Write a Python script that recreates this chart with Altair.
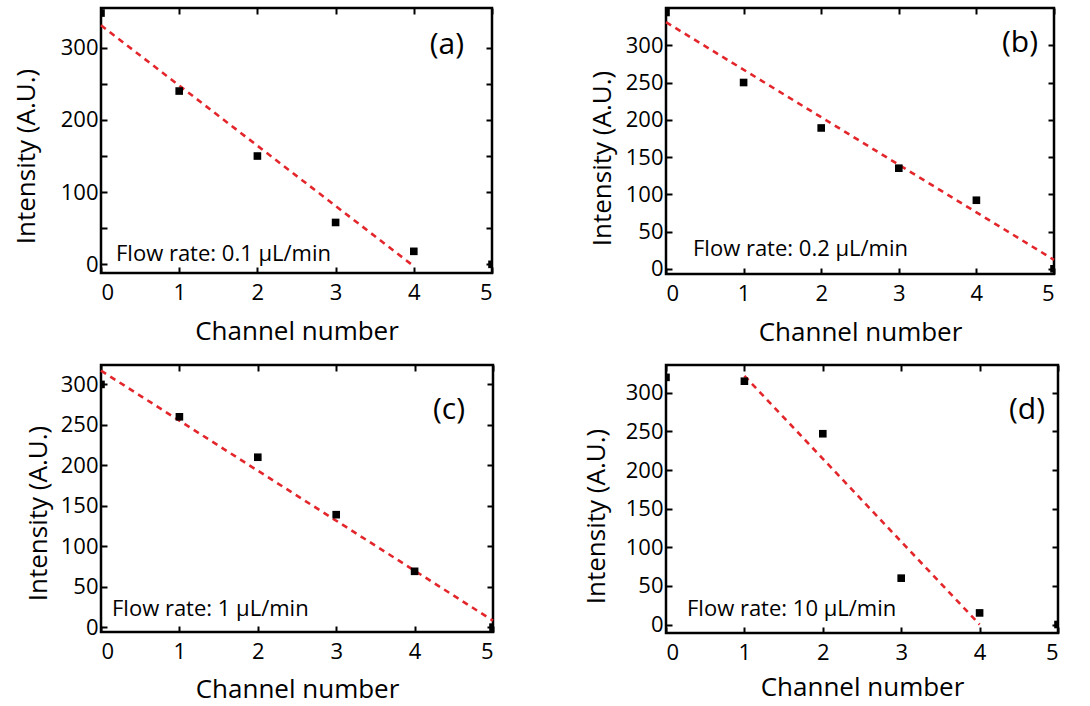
import altair as alt
import pandas as pd

channels = [0, 1, 2, 3, 4, 5]
int_a = [348, 240, 150, 58, 18, 0]
int_b = [344, 250, 189, 135, 92, 0]
int_c = [300, 260, 210, 139, 69, 0]
int_d = [320, 315, 247, 60, 15, 0]

fit_a_x, fit_a_y = [0, 3.97], [331, 0]
fit_b_x, fit_b_y = [0, 5], [331, 12]
fit_c_x, fit_c_y = [0, 5], [317, 8]
fit_d_x, fit_d_y = [1, 4], [322, 0]

notes = ["Flow rate: 0.1 µL/min", "Flow rate: 0.2 µL/min",
         "Flow rate: 1 µL/min", "Flow rate: 10 µL/min"]
labels = ["(a)", "(b)", "(c)", "(d)"]
x_ticks = [0, 1, 2, 3, 4, 5]
y_ticks = [0, 50, 100, 150, 200, 250, 300]

FONT = "Open Sans"


def panel(vals, fx, fy, dom, yexpr, w, h, note, lab, note_xy, lab_xy, ytx, yty, xty):
    pts = pd.DataFrame({"ch": channels, "v": vals})
    fit = pd.DataFrame({"ch": fx, "v": fy})
    xs = alt.Scale(domain=[0, 5], nice=False, zero=False)
    ys = alt.Scale(domain=dom, nice=False, zero=False)
    common = dict(domain=False, tickColor="black", tickWidth=2, tickSize=6,
                  offset=-6, grid=False, labelFont=FONT, titleFont=FONT,
                  labelColor="black", titleColor="black")
    points = alt.Chart(pts).mark_square(size=58, color="black", opacity=1, clip=True).encode(
        x=alt.X("ch:Q", scale=xs, axis=alt.Axis(
            orient="bottom", values=x_ticks, title="Channel number",
            labelFontSize=22, labelPadding=9, titleFontSize=26,
            titleFontWeight="normal", titleBaseline="alphabetic", titleY=xty, **common)),
        y=alt.Y("v:Q", scale=ys, axis=alt.Axis(
            orient="left", values=y_ticks, labelExpr=yexpr, title="Intensity (A.U.)",
            labelFontSize=22, labelPadding=3, titleFontSize=26, titleFontWeight="normal",
            titleBaseline="middle", titleAlign="center", titleAngle=-90,
            titleX=ytx, titleY=yty, **common)),
    )
    line = alt.Chart(fit).mark_line(color="#e3262b", strokeDash=[6, 5], strokeWidth=2.6).encode(
        x=alt.X("ch:Q", scale=xs, axis=alt.Axis(orient="top", values=x_ticks, labels=False,
                                                 title=None, **common)),
        y=alt.Y("v:Q", scale=ys, axis=alt.Axis(orient="right", values=y_ticks, labels=False,
                                                title=None, **common)),
    )
    note_t = alt.Chart(pd.DataFrame({"t": [note]})).mark_text(
        font=FONT, fontSize=22, align="left", baseline="alphabetic", color="black"
    ).encode(text="t:N", x=alt.value(note_xy[0]), y=alt.value(note_xy[1]))
    lab_t = alt.Chart(pd.DataFrame({"t": [lab]})).mark_text(
        font=FONT, fontSize=30, align="right", baseline="middle", color="black"
    ).encode(text="t:N", x=alt.value(lab_xy[0]), y=alt.value(lab_xy[1]))
    return alt.layer(line, points, note_t, lab_t).resolve_axis(
        x="independent", y="independent").properties(width=w, height=h)


lab100 = "datum.value % 100 == 0 ? datum.label : ''"
pa = panel(int_a, fit_a_x, fit_a_y, [-12, 355], lab100, 391, 265, notes[0], labels[0],
           (15, 253), (363, 37), -81, 148, 72)
pb = panel(int_b, fit_b_x, fit_b_y, [-7, 350], "datum.label", 388, 266, notes[1], labels[1],
           (27, 248), (372, 35), -70, 150, 72)
pc = panel(int_c, fit_c_x, fit_c_y, [-6, 324], "datum.label", 392, 267, notes[2], labels[2],
           (11, 251), (364, 45), -69, 148, 71)
pd_ = panel(int_d, fit_d_x, fit_d_y, [-11, 336], "datum.label", 392, 268, notes[3], labels[3],
            (21, 251), (379, 45), -76, 151, 68)

chart = alt.concat(pa, pb, pc, pd_, columns=2, spacing={"row": 91, "column": 173},
                   bounds="flush", align="none").properties(
    padding={"left": 11, "top": 5, "right": 5, "bottom": 2},
    background="white",
).configure_view(stroke="black", strokeWidth=2.5)

chart.save("out.html", embed_options={"renderer": "svg", "actions": False})
